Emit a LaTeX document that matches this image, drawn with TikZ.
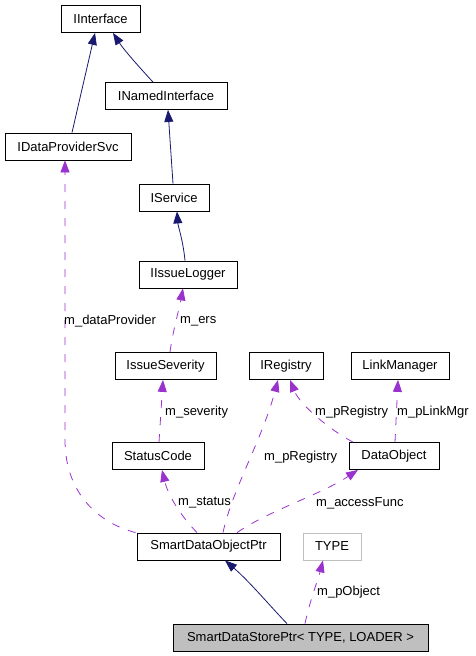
\documentclass[tikz,border=0pt]{standalone}
\usepackage{fontspec}
\setmainfont{Liberation Sans}
\usetikzlibrary{arrows.meta}
\definecolor{navy}{HTML}{191970}
\definecolor{orchid}{HTML}{9A32CD}
\definecolor{greybox}{HTML}{BFBFBF}
\tikzset{
  cls/.style={draw=black, line width=0.8pt, rectangle, inner sep=0pt, minimum height=27pt, font=\fontsize{13}{15}\selectfont},
  inh/.style={draw=navy, line width=0.8pt, -{Triangle[length=12pt,width=9pt]}, color=navy},
  use/.style={draw=orchid, line width=0.8pt, dash pattern=on 8pt off 9pt, -{Triangle[length=12pt,width=9pt]}, color=orchid},
  lbl/.style={anchor=west, inner sep=0pt, font=\fontsize{13}{15}\selectfont, text=black},
}
\begin{document}
\begin{tikzpicture}[x=1pt,y=-1pt]
\useasboundingbox (0,0) rectangle (476,656);
\node[cls, minimum width=79pt]  (IInterface) at (100.5,19) {IInterface};
\node[cls, minimum width=122pt] (INamedInterface) at (166,96) {INamedInterface};
\node[cls, minimum width=126pt] (IDataProviderSvc) at (68,146.5) {IDataProviderSvc};
\node[cls, minimum width=70pt]  (IService) at (174,197.5) {IService};
\node[cls, minimum width=98pt]  (IIssueLogger) at (188,274.5) {IIssueLogger};
\node[cls, minimum width=101pt] (IssueSeverity) at (165.5,366) {IssueSeverity};
\node[cls, minimum width=74pt]  (IRegistry) at (286,366) {IRegistry};
\node[cls, minimum width=98pt]  (LinkManager) at (400,366) {LinkManager};
\node[cls, minimum width=92pt]  (StatusCode) at (158,456) {StatusCode};
\node[cls, minimum width=90pt]  (DataObject) at (394,456) {DataObject};
\node[cls, minimum width=143pt] (SDOP) at (208.5,546.5) {SmartDataObjectPtr};
\node[cls, draw=greybox, minimum width=58pt] (TYPE) at (332,546.5) {TYPE};
\node[cls, fill=greybox, minimum width=255pt] (SDSP) at (300.5,637.5) {SmartDataStorePtr< TYPE, LOADER >};

% inheritance
\draw[inh] ([xshift=4pt]IDataProviderSvc.north) -- ([xshift=-5.5pt]IInterface.south);
\draw[inh] ([xshift=-13pt]INamedInterface.north) .. controls (140,68) and (124,50) .. ([xshift=12.5pt]IInterface.south);
\draw[inh] ([xshift=-1pt]IService.north) -- ([xshift=2pt]INamedInterface.south);
\draw[inh] ([xshift=-3pt]IIssueLogger.north) .. controls (183,240) and (178,226) .. ([xshift=3pt]IService.south);
\draw[inh] ([xshift=-13.5pt]SDSP.north) .. controls (270,606) and (250,582) .. ([xshift=16.5pt]SDOP.south);

% usage
\draw[use] ([xshift=4.5pt]IssueSeverity.north) .. controls (172,335) and (180,305) .. ([xshift=-5pt]IIssueLogger.south);
\node[lbl] (lers) at (180,321) {m\_ers};
\draw[use] ([xshift=1pt]StatusCode.north) -- ([xshift=-2.5pt]IssueSeverity.south);
\node[lbl] (lsev) at (165,412) {m\_severity};
\draw[use] ([xshift=-11.5pt]SDOP.north) .. controls (180,515) and (168,495) .. ([xshift=4pt]StatusCode.south);
\node[lbl] (lstat) at (178,503) {m\_status};
\draw[use] ([xshift=14.5pt]SDOP.north) .. controls (232,490) and (262,440) .. ([xshift=-8pt]IRegistry.south);
\node[lbl] (lreg1) at (264,457) {m\_pRegistry};
\draw[use] ([xshift=-41pt]DataObject.north) .. controls (330,430) and (300,405) .. ([xshift=4pt]IRegistry.south);
\node[lbl] (lreg2) at (315,412) {m\_pRegistry};
\draw[use] ([xshift=1pt]DataObject.north) -- ([xshift=-2pt]LinkManager.south);
\node[lbl] (llink) at (397,412) {m\_pLinkMgr};
\draw[use] ([xshift=28.5pt]SDOP.north) .. controls (270,510) and (320,495) .. ([xshift=-36pt]DataObject.south);
\node[lbl] (lacc) at (316,503) {m\_accessFunc};
\draw[use] ([xshift=-1pt]SDOP.north west) .. controls (95,522) and (65,490) .. (65,440) -- ([xshift=-3pt]IDataProviderSvc.south);
\node[lbl] (ldp) at (64,321) {m\_dataProvider};
\draw[use] ([xshift=4.5pt]SDSP.north) .. controls (310,600) and (318,580) .. ([xshift=-9pt]TYPE.south);
\node[lbl] (lobj) at (317,592) {m\_pObject};
\end{tikzpicture}
\end{document}
